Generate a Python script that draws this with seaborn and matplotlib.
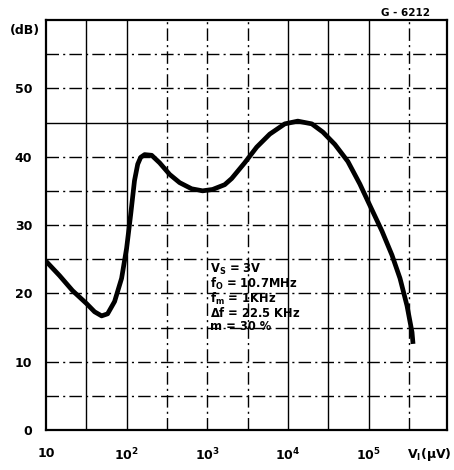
import numpy as np
import pandas as pd
import matplotlib
matplotlib.use("Agg")
import matplotlib.pyplot as plt
import seaborn as sns

# 入力電圧 (uV) と出力 (dB) -- 図から読み取り
v_in = [10, 14.7, 21.3, 31.8, 40.0, 48.9, 58.0, 70.8, 86.5, 99.8, 112, 125, 137,
        149, 167, 204, 256, 341, 453, 638, 874, 1160, 1640, 2000, 2900, 4090, 5930,
        9110, 13200, 19700, 27000, 38000, 55100, 77600, 103000, 146000,
        194000, 244000, 298000, 344000, 354000]
out_db = [24.7, 22.6, 20.4, 18.5, 17.3, 16.7, 17.0, 18.8, 22.2, 26.6, 31.5, 36.5, 38.9,
          39.9, 40.3, 40.2, 39.1, 37.4, 36.2, 35.3, 35.0, 35.2, 35.9, 36.8, 39.1, 41.4, 43.3,
          44.8, 45.2, 44.8, 43.6, 41.8, 39.3, 36.0, 32.9, 29.1,
          25.6, 22.2, 18.2, 14.3, 12.6]

x_ticks = [10, 1e2, 1e3, 1e4, 1e5]
x_ticklabels = ["10", "$10^2$", "$10^3$", "$10^4$", "$10^5$"]
y_ticks = [0, 10, 20, 30, 40, 50]

v_solid = [10**1.5, 1e2, 1e4, 10**4.5, 1e5]
v_dashed = [10**2.5, 1e3, 10**3.5, 10**5.5]
h_solid = [45]
h_dashed = [5, 10, 15, 20, 25, 30, 35, 40, 50, 55]

cond_lines = ["$V_S$ = 3V", "$f_O$ = 10.7MHz", "$f_m$ = 1KHz",
              "$\\Delta f$ = 22.5 KHz", "m = 30 %"]

sns.set_style("white", {"text.color": "black", "xtick.color": "black",
                        "ytick.color": "black", "axes.edgecolor": "black"})
plt.rcParams["font.family"] = ["DejaVu Sans"]
plt.rcParams["mathtext.default"] = "bf"

fig = plt.figure(figsize=(4.54, 4.70), dpi=100)
ax = fig.add_axes([46/454, 40/470, 401/454, 410/470])

df = pd.DataFrame({"v": v_in, "db": out_db})

# グリッド
dash = (0, (9, 3, 1.5, 3))
for v in v_solid:
	ax.axvline(v, color="black", lw=1.0, zorder=1)
for v in v_dashed:
	ax.axvline(v, color="black", lw=1.0, ls=dash, zorder=1)
for h in h_solid:
	ax.axhline(h, color="black", lw=1.0, zorder=1)
for h in h_dashed:
	ax.axhline(h, color="black", lw=1.0, ls=dash, zorder=1)

sns.lineplot(data=df, x="v", y="db", ax=ax, color="black", lw=3.4,
             sort=False, estimator=None, zorder=3,
             solid_joinstyle="round", solid_capstyle="butt")

ax.set_xscale("log")
ax.set_xlim(10, 10**5.97)
ax.set_ylim(0, 60)
ax.set_xticks(x_ticks)
ax.set_xticklabels(x_ticklabels)
ax.xaxis.set_minor_locator(matplotlib.ticker.NullLocator())
ax.set_yticks(y_ticks)
ax.tick_params(axis="both", length=0, labelsize=9, colors="black")
ax.tick_params(axis="x", pad=12)
ax.tick_params(axis="y", pad=10)
for lab in ax.get_xticklabels() + ax.get_yticklabels():
	lab.set_fontweight("bold")
ax.set_xlabel("")
ax.set_ylabel("")

for s in ax.spines.values():
	s.set_linewidth(1.6)
	s.set_color("black")

ax.text(-0.015, 58.5, "(dB)", transform=ax.get_yaxis_transform(),
        ha="right", va="center", fontsize=9, fontweight="bold")
ax.text(1.012, -0.06, "$V_I$($\\mu$V)", transform=ax.transAxes,
        ha="right", va="center", fontsize=9, fontweight="bold")
fig.text(0.893, 0.972, "G - 6212", ha="center", va="center",
         fontsize=7.5, fontweight="bold")

ax.text(0.41, 0.41, "\n".join(cond_lines), transform=ax.transAxes,
        ha="left", va="top", fontsize=8.3, fontweight="bold", linespacing=0.92)

fig.savefig("out.png", dpi=100)
